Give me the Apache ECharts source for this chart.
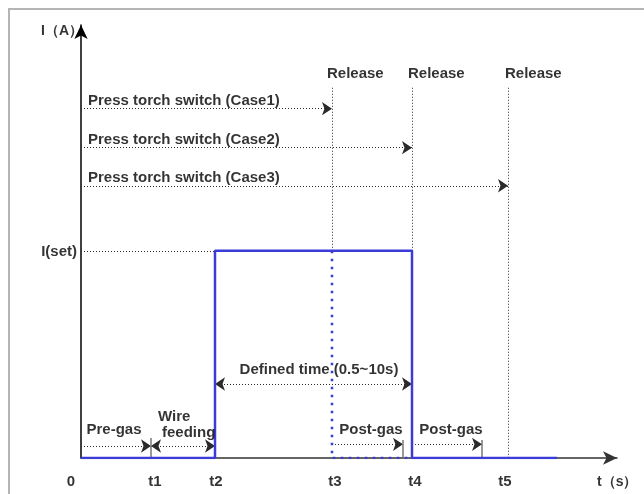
<!DOCTYPE html>
<html>
<head>
<meta charset="utf-8">
<script src="https://cdn.jsdelivr.net/npm/echarts@6/dist/echarts.min.js"></script>
<style>
  html, body { margin: 0; padding: 0; background: #fff; }
  #wrap { position: relative; width: 644px; height: 494px; }
  #frame { position: absolute; left: 8px; top: 8px; right: 0; bottom: 0;
           border-left: 2px solid #b4b4b4; border-top: 2px solid #b4b4b4; }
  #chart { position: absolute; left: 0; top: 0; width: 644px; height: 494px; }
</style>
</head>
<body>
<div id="wrap">
  <div id="frame"></div>
  <div id="chart"></div>
</div>
<script>
// time marks on the x axis (arbitrary units)
const tickNames = ["0", "t1", "t2", "t3", "t4", "t5"];
const tickTimes = [0, 7.0, 13.4, 25.1, 33.1, 42.7];
const tickLabelX = [-1.0, 7.4, 13.5, 25.4, 33.4, 42.4];

// welding current waveform
const waveT = [0, 13.4, 13.4, 33.1, 33.1, 47.6];
const waveI = [0, 0, 100, 100, 0, 0];
const iSet = 100;

// torch switch cases: release time and arrow level
const caseNames = ["Press torch switch (Case1)", "Press torch switch (Case2)", "Press torch switch (Case3)"];
const caseEnds = [25.1, 33.1, 42.7];
const caseLevels = [168.6, 149.8, 131.4];
const releaseTop = 178.7;

// gas phases
const preGasEnd = 7.0;
const postGasStarts = [25.1, 33.1];
const postGasEnds = [32.2, 40.1];
const gasLevel = 5.8;
const postGasLevel = 6.6;
const definedLevel = 35.7;

const xMax = 53.6, yMax = 209;

const FONT = "'Liberation Sans', Arial, sans-serif";
const dotted = { color: "#2a2a2a", width: 1, type: [1, 2] };
const arrowSym = "arrow";

function seg(a, b, style, sym) {
  return [
    { coord: a, symbol: sym ? sym[0] : "none", lineStyle: style },
    { coord: b, symbol: sym ? sym[1] : "none" }
  ];
}

const marks = [];
// I(set) guide
marks.push(seg([0, iSet], [tickTimes[2], iSet], dotted));
// release lines
marks.push(seg([caseEnds[0], releaseTop], [caseEnds[0], iSet], dotted));
marks.push(seg([caseEnds[1], releaseTop], [caseEnds[1], iSet], dotted));
marks.push(seg([caseEnds[2], releaseTop], [caseEnds[2], 0], dotted));
// torch switch arrows
caseEnds.forEach((e, i) => {
  marks.push(seg([0, caseLevels[i]], [e, caseLevels[i]], dotted, ["none", arrowSym]));
});
// defined time
marks.push(seg([tickTimes[2], definedLevel], [tickTimes[4], definedLevel], dotted, [arrowSym, arrowSym]));
// pre-gas and wire feeding
marks.push(seg([0, gasLevel], [preGasEnd, gasLevel], dotted, ["none", arrowSym]));
marks.push(seg([preGasEnd, gasLevel], [tickTimes[2], gasLevel], dotted, [arrowSym, arrowSym]));
marks.push(seg([preGasEnd, 0], [preGasEnd, 9.7], { color: "#777", width: 1.5, type: "solid" }));
// post-gas
postGasStarts.forEach((s, i) => {
  marks.push(seg([s, postGasLevel], [postGasEnds[i], postGasLevel], dotted, ["none", arrowSym]));
  marks.push(seg([postGasEnds[i], 0], [postGasEnds[i], 8.7], { color: "#777", width: 1.5, type: "solid" }));
});

// text annotations: [x, y, text, align, size]
const texts = [
  [0.2, 205.8, "I（A）", "right", 14],
  [-0.4, 99.5, "I(set)", "right", 15],
  [24.6, 185.5, "Release", "left", 15],
  [32.7, 185.5, "Release", "left", 15],
  [42.4, 185.5, "Release", "left", 15],
  [0.7, 172.4, caseNames[0], "left", 15],
  [0.7, 153.6, caseNames[1], "left", 15],
  [0.7, 135.2, caseNames[2], "left", 15],
  [23.8, 42.5, "Defined time (0.5~10s)", "center", 15],
  [3.3, 13.5, "Pre-gas", "center", 15],
  [7.7, 19.8, "Wire", "left", 15],
  [8.1, 12.1, "feeding", "left", 15],
  [29.0, 13.5, "Post-gas", "center", 15],
  [37.0, 13.5, "Post-gas", "center", 15],
  [51.6, -11.6, "t（s）", "left", 14]
];
tickNames.forEach((n, i) => texts.push([tickLabelX[i], -11.6, n, "center", 15]));

const chart = echarts.init(document.getElementById("chart"), null, { renderer: "canvas" });
chart.setOption({
  animation: false,
  grid: { left: 81, right: 27, top: 25, bottom: 36 },
  xAxis: {
    type: "value", min: 0, max: xMax,
    axisLine: { show: true, symbol: ["none", "arrow"], symbolSize: [10, 14],
                lineStyle: { color: "#333", width: 1.5 } },
    axisTick: { show: false }, axisLabel: { show: false }, splitLine: { show: false }
  },
  yAxis: {
    type: "value", min: 0, max: yMax,
    axisLine: { show: true, symbol: ["none", "arrow"], symbolSize: [10, 14],
                lineStyle: { color: "#000", width: 1.5 } },
    axisTick: { show: false }, axisLabel: { show: false }, splitLine: { show: false }
  },
  series: [
    {
      type: "line",
      data: waveT.map((t, i) => [t, waveI[i]]),
      showSymbol: false,
      silent: true,
      lineStyle: { color: "#3b3bd8", width: 2.5 },
      z: 5,
      markLine: {
        silent: true,
        symbolSize: [10, 10],
        label: { show: false },
        lineStyle: dotted,
        itemStyle: { color: "#000" },
        emphasis: { disabled: true },
        data: marks
      }
    },
    {
      type: "line",
      data: [[tickTimes[3], iSet], [tickTimes[3], 0], [tickTimes[4], 0]],
      showSymbol: false,
      silent: true,
      lineStyle: { color: "#3b3bd8", width: 2.5, type: [2.5, 5.5] },
      z: 6
    },
    {
      type: "scatter",
      symbolSize: 0,
      silent: true,
      clip: false,
      data: texts.map(t => ({
        value: [t[0], t[1]],
        label: { align: t[3], fontSize: t[4] }
      })),
      label: {
        show: true,
        position: "inside",
        verticalAlign: "middle",
        color: "#000",
        fontFamily: FONT,
        fontWeight: "bold",
        fontSize: 15,
        formatter: p => texts[p.dataIndex][2]
      },
      z: 10
    }
  ]
});
</script>
</body>
</html>
